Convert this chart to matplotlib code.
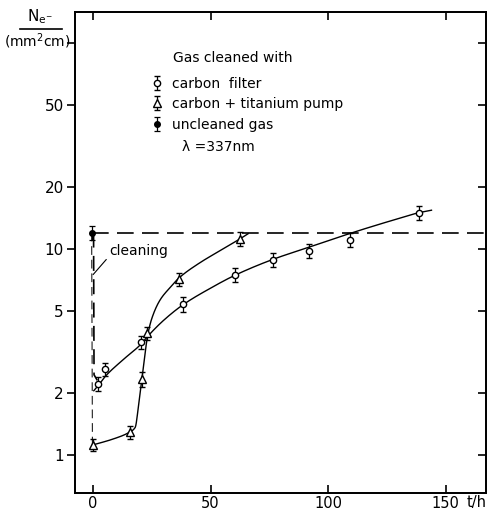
import numpy as np
import matplotlib
matplotlib.use("Agg")
import matplotlib.pyplot as plt
from matplotlib.ticker import FixedLocator, NullLocator, NullFormatter

# measured electron yield vs. time after gas cleaning
t_carbon = [2.3, 5.1, 20.4, 38.2, 60.4, 76.6, 92.0, 109.5, 138.9]
n_carbon = [2.21, 2.61, 3.52, 5.41, 7.48, 8.84, 9.81, 11.1, 15.0]
e_carbon = [0.17, 0.20, 0.27, 0.45, 0.60, 0.70, 0.80, 0.90, 1.20]

t_titan = [0.0, 15.5, 20.7, 23.1, 36.7, 62.6]
n_titan = [1.12, 1.29, 2.33, 3.90, 7.13, 11.2]
e_titan = [0.08, 0.09, 0.20, 0.30, 0.55, 0.90]

t_raw = [-0.6]
n_raw = [12.0]
e_raw = [0.9]

# hand-drawn trend curves (knots of the smooth guide lines)
fit_carbon_t = [0.3, 2.3, 5.1, 12.0, 20.4, 23.1, 30.0, 38.2, 50.0, 60.4, 76.6, 92.0, 109.5, 125.0, 138.9, 144.0]
fit_carbon_n = [2.05, 2.18, 2.40, 2.85, 3.45, 3.75, 4.50, 5.35, 6.45, 7.45, 8.90, 10.2, 11.9, 13.5, 15.0, 15.4]
fit_titan_t = [0.0, 8.0, 15.5, 17.9, 19.3, 20.7, 22.1, 23.3, 25.0, 28.5, 32.8, 36.7, 45.0, 55.0, 62.6, 66.0]
fit_titan_n = [1.12, 1.19, 1.29, 1.36, 1.72, 2.33, 3.11, 3.85, 4.60, 5.65, 6.50, 7.25, 8.5, 9.95, 11.2, 11.85]

# dashed guides from the uncleaned-gas level
level_raw = 12.0
drop_carbon_t = [0.2, 0.4, 1.8]
drop_carbon_n = [12.0, 2.45, 2.3]
drop_titan_t = [-0.6, -0.3]
drop_titan_n = [12.0, 1.12]

y_ticks = [1, 2, 5, 10, 20, 50, 100]
y_labels = ["1", "2", "5", "10", "20", "50", ""]
x_ticks = [0, 50, 100, 150]
x_labels = ["0", "50", "100", "150"]


def pchip(x, y, xn):
    x = np.asarray(x, float)
    y = np.asarray(y, float)
    h = np.diff(x)
    d = np.diff(y) / h
    m = np.zeros_like(y)
    for k in range(1, len(x) - 1):
        if d[k - 1] * d[k] > 0:
            w1 = 2 * h[k] + h[k - 1]
            w2 = h[k] + 2 * h[k - 1]
            m[k] = (w1 + w2) / (w1 / d[k - 1] + w2 / d[k])
    m[0] = d[0]
    m[-1] = d[-1]
    idx = np.clip(np.searchsorted(x, xn) - 1, 0, len(x) - 2)
    s = (xn - x[idx]) / h[idx]
    h00 = 2 * s**3 - 3 * s**2 + 1
    h10 = s**3 - 2 * s**2 + s
    h01 = -2 * s**3 + 3 * s**2
    h11 = s**3 - s**2
    return h00 * y[idx] + h10 * h[idx] * m[idx] + h01 * y[idx + 1] + h11 * h[idx] * m[idx + 1]


def smooth(tk, nk):
    tt = np.linspace(tk[0], tk[-1], 600)
    return tt, 10 ** pchip(tk, np.log10(nk), tt)


plt.rcParams["font.family"] = ["DejaVu Sans"]
fig = plt.figure(figsize=(4.92, 5.11), dpi=100)
ax = fig.add_axes([75 / 492, 1 - 493 / 511, 411 / 492, 481 / 511])
ax.set_yscale("log")
ax.set_xlim(-7.7, 167.2)
ax.set_ylim(0.654, 141)

for sp in ax.spines.values():
    sp.set_linewidth(1.3)

# guide curves
tc, nc = smooth(fit_carbon_t, fit_carbon_n)
ax.plot(tc, nc, color="black", lw=1.0)
tt, nt = smooth(fit_titan_t, fit_titan_n)
ax.plot(tt, nt, color="black", lw=1.0)

# dashed reference lines
ax.plot([t_raw[0], ax.get_xlim()[1]], [level_raw, level_raw], color="black",
        lw=1.2, dashes=(10, 5))
ax.plot(drop_carbon_t, drop_carbon_n, color="black", lw=1.2, dashes=(9, 5))
ax.plot(drop_titan_t, drop_titan_n, color="black", lw=0.7, dashes=(9, 5))

eb_kw = dict(color="black", ecolor="black", elinewidth=0.9, capsize=2.5,
             capthick=0.9, linestyle="none")
h1 = ax.errorbar(t_carbon, n_carbon, yerr=e_carbon, marker="o", ms=4.5,
                 mfc="white", mec="black", mew=1.0, **eb_kw)
h2 = ax.errorbar(t_titan, n_titan, yerr=e_titan, marker="^", ms=6,
                 mfc="white", mec="black", mew=1.0, **eb_kw)
h3 = ax.errorbar(t_raw, n_raw, yerr=e_raw, marker="o", ms=4,
                 mfc="black", mec="black", **eb_kw)

ax.annotate("cleaning", xy=(0.0, 7.5), xytext=(6.8, 9.8), fontsize=10,
            va="center", ha="left",
            arrowprops=dict(arrowstyle="-", color="black", lw=0.8,
                            shrinkA=0, shrinkB=0, relpos=(0.0, 0.1)))

# ticks
ax.yaxis.set_major_locator(FixedLocator(y_ticks))
ax.yaxis.set_major_formatter(matplotlib.ticker.FixedFormatter(y_labels))
ax.yaxis.set_minor_locator(NullLocator())
ax.yaxis.set_minor_formatter(NullFormatter())
ax.set_xticks(x_ticks)
ax.set_xticklabels(x_labels)
ax.tick_params(axis="y", direction="out", length=6, width=1.2, labelsize=11,
               pad=2)
ax.tick_params(axis="x", direction="in", length=6, width=1.2, labelsize=10.5,
               top=True, pad=2)

axr = ax.twinx()
axr.set_yscale("log")
axr.set_ylim(ax.get_ylim())
axr.yaxis.set_major_locator(FixedLocator(y_ticks))
axr.yaxis.set_minor_locator(NullLocator())
axr.yaxis.set_major_formatter(NullFormatter())
axr.yaxis.set_minor_formatter(NullFormatter())
axr.tick_params(axis="y", direction="in", length=6, width=1.2)
for sp in axr.spines.values():
    sp.set_linewidth(1.3)

# legend block
ax.text(0.238, 0.905, "Gas cleaned with", transform=ax.transAxes,
        fontsize=10, va="center", ha="left")
leg = ax.legend([h1, h2, h3],
                ["carbon  filter", "carbon + titanium pump", "uncleaned gas"],
                loc="upper left", bbox_to_anchor=(0.165, 0.885),
                frameon=False, fontsize=10, handlelength=0.6,
                handletextpad=0.8, labelspacing=0.45, borderpad=0.2)
ax.text(0.26, 0.72, "λ =337nm", transform=ax.transAxes, fontsize=10,
        va="center", ha="left")

# axis labels
fig.text(40 / 492, 1 - 17 / 511, r"N$_{\mathrm{e}^{-}}$", fontsize=11,
         ha="center", va="center")
fig.add_artist(plt.Line2D([20 / 492, 62 / 492], [1 - 29 / 511, 1 - 29 / 511],
                          color="black", lw=1.2))
fig.text(37 / 492, 1 - 41 / 511, r"(mm$^2$cm)", fontsize=10,
         ha="center", va="center")
fig.text(477 / 492, 1 - 502 / 511, "t/h", fontsize=10.5, ha="center",
         va="center")

fig.savefig("out.png", dpi=100)
